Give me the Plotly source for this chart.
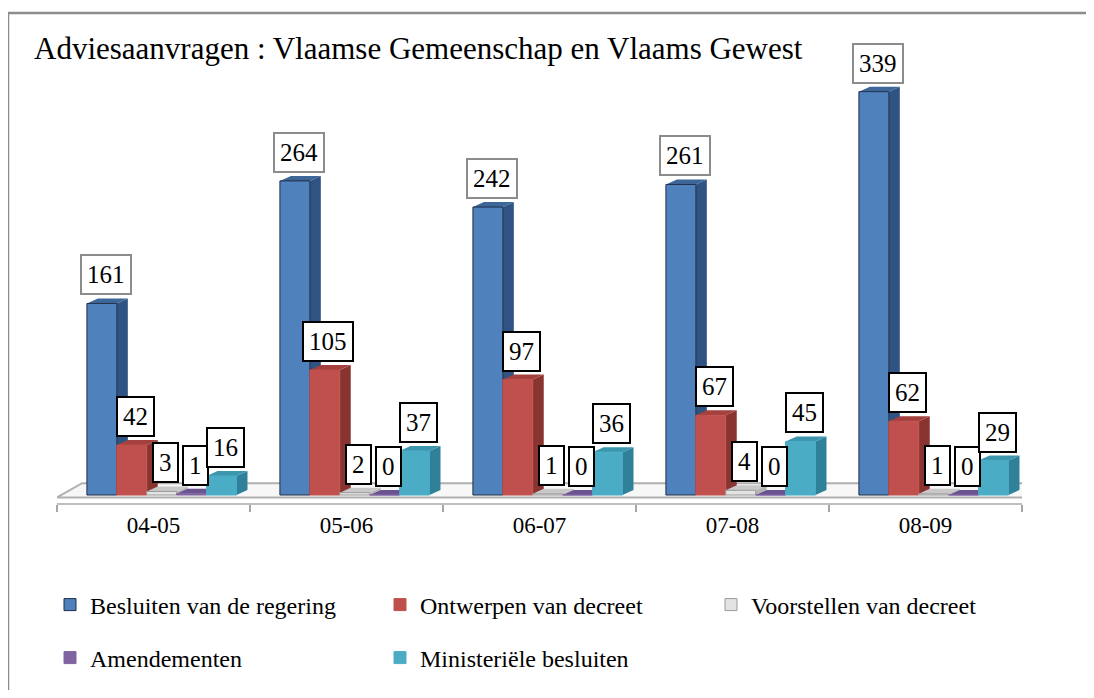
import plotly.graph_objects as go

categories = ["04-05", "05-06", "06-07", "07-08", "08-09"]
series_names = ["Besluiten van de regering", "Ontwerpen van decreet", "Voorstellen van decreet",
                "Amendementen", "Ministeriële besluiten"]
besluiten = [161, 264, 242, 261, 339]
ontwerpen = [42, 105, 97, 67, 62]
voorstellen = [3, 2, 1, 4, 1]
amendementen = [1, 0, 0, 0, 0]
ministeriele = [16, 37, 36, 45, 29]
title_text = "Adviesaanvragen : Vlaamse Gemeenschap en Vlaams Gewest"

series = [besluiten, ontwerpen, voorstellen, amendementen, ministeriele]
front = ["#4F81BD", "#C0504D", "#E3E3E3", "#8064A2", "#4BACC6"]
side = ["#2F5483", "#8A3432", "#B5B5B5", "#5A437A", "#2F8099"]
top = ["#3D6699", "#A4403D", "#C8C8C8", "#6B5290", "#3C96AE"]
edge = ["#1F2F45", "#C0504D", "#9A9A9A", "#8064A2", "#4BACC6"]
label_border = ["#8C8C8C", "#000000", "#000000", "#000000", "#000000"]

FONT = "Liberation Serif"
PAGE = 8  # default body margin of the page
W, H = 1094 - 2 * PAGE, 698 - 2 * PAGE
# plot area in page pixels: x 57..1022, y 60..503
L = 57 - PAGE
R = W - (1022 - PAGE)
T = 60 - PAGE
B = H - (503 - PAGE)
PW, PH = W - L - R, H - T - B
start = -0.345
bw = 0.155
dx = 0.057
dy = 4.2
ymin, ymax = -6.7, 365.6


def cx(px):
    return (px - PAGE) / W


def cy(py):
    return 1 - (py - PAGE) / H


fig = go.Figure()
shapes = []
annotations = []

# floor
shapes.append(dict(type="path", xref="x", yref="y", layer="below",
                   path="M -0.5,-2 L -0.37,10 L 4.63,10 L 4.5,-2 Z",
                   fillcolor="#F7F7F7", line=dict(color="#B0B0B0", width=2)))

for s, (name, vals) in enumerate(zip(series_names, series)):
    off = start + s * bw
    fig.add_trace(go.Bar(
        x=categories, y=vals, name=name, offset=off, width=bw,
        marker=dict(color=front[s], line=dict(color=edge[s], width=1)),
        legend="legend" if s == 0 else f"legend{s + 1}",
        hoverinfo="x+y+name",
    ))
    for i, v in enumerate(vals):
        x0 = i + off
        x1 = x0 + bw
        shapes.append(dict(type="path", xref="x", yref="y", layer="below",
                           path=f"M {x1},0 L {x1+dx},{dy} L {x1+dx},{v+dy} L {x1},{v} Z",
                           fillcolor=side[s], line=dict(width=0)))
        shapes.append(dict(type="path", xref="x", yref="y", layer="below",
                           path=f"M {x0},{v} L {x0+dx},{v+dy} L {x1+dx},{v+dy} L {x1},{v} Z",
                           fillcolor=top[s], line=dict(width=0)))

for s, vals in enumerate(series):
    off = start + s * bw
    for i, v in enumerate(vals):
        annotations.append(dict(
            x=i + off + bw / 2 + dx / 3, y=v + dy, xref="x", yref="y",
            text=str(v), showarrow=False, yanchor="bottom", yshift=3,
            font=dict(family=FONT, size=25, color="#000000"),
            bgcolor="#FFFFFF", bordercolor=label_border[s], borderwidth=2, borderpad=5,
        ))

# outer frame
shapes.append(dict(type="rect", xref="paper", yref="paper",
                   x0=(8 - 57) / PW, x1=(1100 - 57) / PW,
                   y0=-(710 - 503) / PH, y1=1 + (60 - 13) / PH,
                   line=dict(color="#8C8C8C", width=2.5), fillcolor="rgba(0,0,0,0)", layer="below"))

legend_pos = [(50, 605), (380, 605), (711, 605), (50, 658), (380, 658)]
legends = {}
for s, (lx, ly) in enumerate(legend_pos):
    key = "legend" if s == 0 else f"legend{s + 1}"
    legends[key] = dict(orientation="h", xref="container", yref="container",
                        x=cx(lx), y=cy(ly), xanchor="left", yanchor="middle",
                        font=dict(family=FONT, size=24, color="#000000"),
                        bgcolor="rgba(0,0,0,0)")

fig.update_layout(
    width=W, height=H,
    margin=dict(l=L, r=R, t=T, b=B),
    paper_bgcolor="#FFFFFF", plot_bgcolor="#FFFFFF",
    barmode="overlay",
    title=dict(text=title_text, x=cx(34), xanchor="left", xref="container",
               y=cy(48), yanchor="middle", yref="container",
               font=dict(family=FONT, size=31, color="#000000")),
    xaxis=dict(type="category", range=[-0.5, 4.5], tickson="boundaries", ticks="outside",
               ticklen=7, tickcolor="#A6A6A6", tickwidth=2, showline=True, linecolor="#BFBFBF",
               linewidth=2, showgrid=False, tickfont=dict(family=FONT, size=23, color="#000000")),
    yaxis=dict(range=[ymin, ymax], visible=False, showgrid=False, zeroline=False),
    shapes=shapes,
    annotations=annotations,
    showlegend=True,
    **legends,
)

fig.write_html("out.html")
